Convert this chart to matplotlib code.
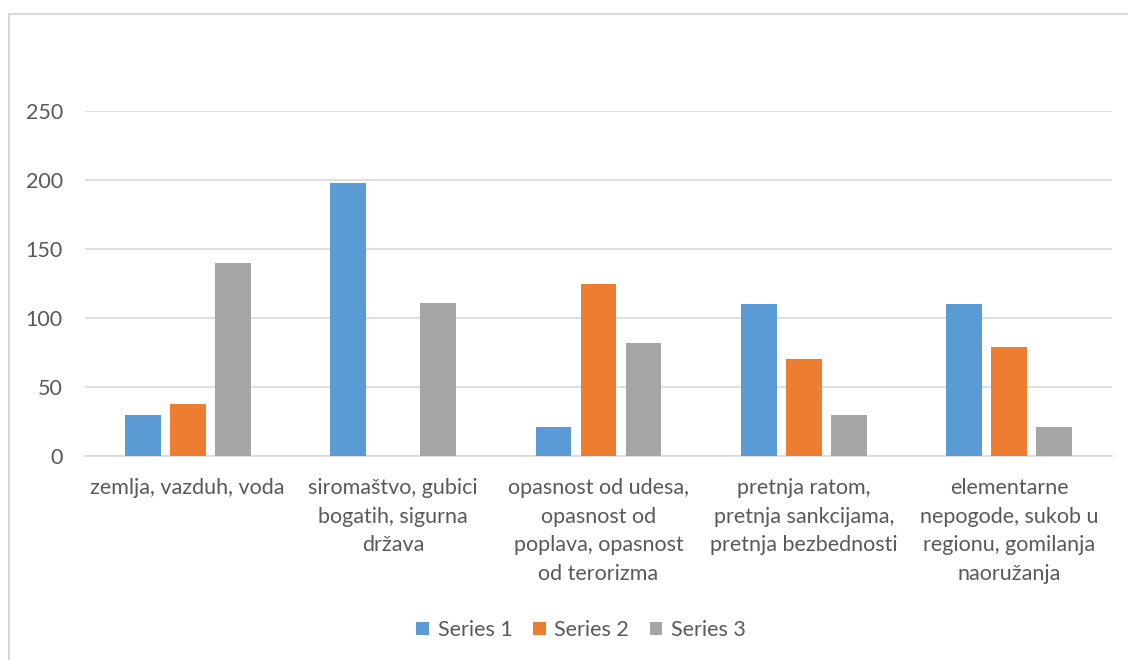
import matplotlib
matplotlib.use("Agg")
import matplotlib.pyplot as plt
from matplotlib.patches import Rectangle
import numpy as np

categories = [
    "zemlja, vazduh, voda",
    "siromaštvo, gubici\nbogatih, sigurna\ndržava",
    "opasnost od udesa,\nopasnost od\npoplava, opasnost\nod terorizma",
    "pretnja ratom,\npretnja sankcijama,\npretnja bezbednosti",
    "elementarne\nnepogode, sukob u\nregionu, gomilanja\nnaoružanja",
]
series_names = ["Series 1", "Series 2", "Series 3"]
series1 = [30, 198, 21, 110, 110]
series2 = [38, 0, 125, 70, 79]
series3 = [140, 111, 82, 30, 21]
y_ticks = [0, 50, 100, 150, 200, 250]

colors = ["#5B9BD5", "#ED7D31", "#A5A5A5"]
text_color = "#595959"
grid_color = "#D9D9D9"

plt.rcParams["font.family"] = ["Lato", "DejaVu Sans"]
fs = 15.5

fig = plt.figure(figsize=(11.28, 6.60), dpi=100)
W, H = 1128, 660

# chart frame
fig.patches.append(Rectangle((9 / W, -0.05), 1.2, 1 - 14 / H + 0.05,
                             transform=fig.transFigure, fill=False,
                             edgecolor=grid_color, linewidth=1.5))

ax = fig.add_axes([85 / W, 1 - 456 / H, (1112 - 85) / W, (456 - 111) / H])

x = np.arange(len(categories))
width = 0.175
step = 0.219
for i, vals in enumerate([series1, series2, series3]):
    ax.bar(x + (i - 1) * step, vals, width=width, color=colors[i],
           label=series_names[i], zorder=3)

ax.set_xlim(-0.5, len(categories) - 0.5)
ax.set_ylim(0, 250)
ax.set_yticks(y_ticks)
ax.set_yticklabels([str(t) for t in y_ticks])
ax.yaxis.grid(True, color=grid_color, linewidth=1.2, zorder=0)
ax.tick_params(axis="y", length=0, pad=16, labelsize=fs, labelcolor=text_color)
ax.set_xticks([])
for s in ["top", "right", "left"]:
    ax.spines[s].set_visible(False)
ax.spines["bottom"].set_color(grid_color)
ax.spines["bottom"].set_linewidth(1.2)

for xi, lab in zip(x, categories):
    ax.text(xi, -0.065, lab, transform=ax.get_xaxis_transform(),
            ha="center", va="top", fontsize=fs, color=text_color,
            linespacing=1.53)

leg = fig.legend(loc="center", bbox_to_anchor=(581 / W, 1 - 630 / H),
                 ncol=3, frameon=False, fontsize=fs, handlelength=0.6,
                 handleheight=0.6, handletextpad=0.4, columnspacing=0.95)
for t in leg.get_texts():
    t.set_color(text_color)

fig.savefig("out.png", dpi=100, facecolor="white")
